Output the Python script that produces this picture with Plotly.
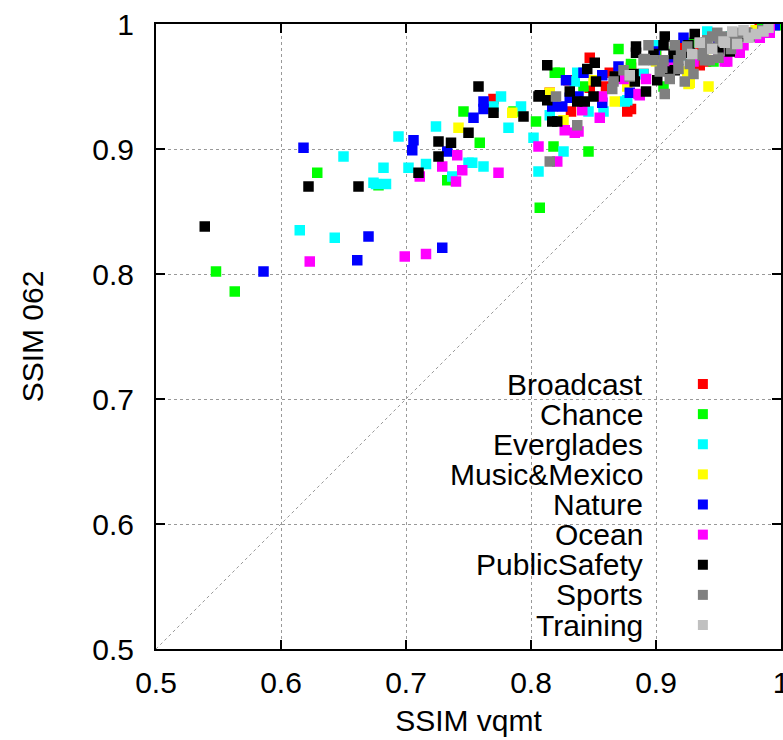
import plotly.graph_objects as go

# SSIM computed by vqmt (x) versus SSIM from the 062 build (y), per sequence set
categories = ["Broadcast", "Chance", "Everglades", "Music&Mexico", "Nature",
              "Ocean", "PublicSafety", "Sports", "Training"]
colors = ["#ff0000", "#00ff00", "#00ffff", "#ffff00", "#0000ff",
          "#ff00ff", "#000000", "#808080", "#c0c0c0"]

broadcast_x = [0.770, 0.847, 0.863, 0.832, 0.847, 0.877, 0.880, 0.935, 0.983, 0.815,
               0.830, 0.860, 0.880, 0.890, 0.900, 0.910, 0.920, 0.935, 0.940, 0.950,
               0.960, 0.970, 0.975, 0.990, 0.997]
broadcast_y = [0.940, 0.973, 0.961, 0.930, 0.949, 0.930, 0.932, 0.967, 0.999, 0.945,
               0.955, 0.950, 0.965, 0.960, 0.975, 0.970, 0.982, 0.980, 0.970, 0.985,
               0.988, 0.990, 0.993, 0.998, 1.000]

chance_x = [0.548, 0.563, 0.629, 0.678, 0.733, 0.746, 0.759, 0.786, 0.804, 0.807,
            0.818, 0.819, 0.823, 0.842, 0.846, 0.870, 0.906, 0.946, 0.995, 0.999,
            0.880, 0.900, 0.915, 0.930, 0.960, 0.980, 0.985]
chance_y = [0.802, 0.786, 0.881, 0.871, 0.875, 0.930, 0.905, 0.930, 0.922, 0.853,
            0.902, 0.961, 0.961, 0.950, 0.898, 0.980, 0.950, 0.970, 1.000, 0.999,
            0.968, 0.975, 0.978, 0.985, 0.990, 0.995, 0.997]

everglades_x = [0.615, 0.643, 0.650, 0.674, 0.676, 0.684, 0.682, 0.694, 0.702, 0.716,
                0.724, 0.737, 0.750, 0.753, 0.762, 0.776, 0.770, 0.792, 0.782, 0.802,
                0.806, 0.826, 0.815, 0.837, 0.835, 0.846, 0.858, 0.875, 0.877, 0.901,
                0.941, 0.890, 0.920, 0.960]
everglades_y = [0.835, 0.829, 0.894, 0.873, 0.872, 0.872, 0.885, 0.910, 0.885, 0.888,
                0.918, 0.878, 0.889, 0.889, 0.886, 0.942, 0.934, 0.934, 0.917, 0.909,
                0.882, 0.898, 0.927, 0.961, 0.954, 0.930, 0.930, 0.938, 0.939, 0.983,
                0.994, 0.960, 0.975, 0.990]

music_x = [0.742, 0.785, 0.815, 0.826, 0.867, 0.877, 0.925, 0.926, 0.927, 0.942,
           0.850, 0.880, 0.900, 0.940, 0.960, 0.980, 0.910]
music_y = [0.917, 0.929, 0.945, 0.923, 0.938, 0.950, 0.962, 0.952, 0.953, 0.950,
           0.955, 0.960, 0.970, 0.980, 0.985, 0.995, 0.965]

nature_x = [0.586, 0.618, 0.661, 0.670, 0.729, 0.706, 0.705, 0.733, 0.754, 0.762,
            0.762, 0.817, 0.825, 0.828, 0.831, 0.838, 0.842, 0.857, 0.857, 0.870,
            0.879, 0.899, 0.922, 0.910, 0.935, 0.950, 0.970, 0.990, 0.995]
nature_y = [0.802, 0.901, 0.811, 0.830, 0.821, 0.907, 0.899, 0.898, 0.925, 0.938,
            0.932, 0.934, 0.934, 0.955, 0.941, 0.942, 0.961, 0.959, 0.937, 0.966,
            0.945, 0.978, 0.989, 0.970, 0.975, 0.985, 0.990, 0.998, 0.999]

ocean_x = [0.623, 0.699, 0.716, 0.711, 0.729, 0.741, 0.745, 0.740, 0.774, 0.806,
           0.821, 0.827, 0.835, 0.838, 0.841, 0.855, 0.857, 0.874, 0.886, 0.887,
           0.892, 0.955, 0.957, 0.967, 0.967, 0.970, 0.983, 0.991, 0.991, 0.930,
           0.950, 0.910]
ocean_y = [0.810, 0.814, 0.816, 0.878, 0.886, 0.895, 0.883, 0.874, 0.881, 0.902,
           0.890, 0.915, 0.913, 0.914, 0.931, 0.925, 0.942, 0.956, 0.944, 0.943,
           0.956, 0.970, 0.970, 0.981, 0.977, 0.983, 0.989, 0.993, 0.997, 0.970,
           0.975, 0.965]

publicsafety_x = [0.539, 0.622, 0.662, 0.710, 0.726, 0.736, 0.726, 0.750, 0.758, 0.770,
                  0.794, 0.806, 0.813, 0.807, 0.813, 0.817, 0.821, 0.831, 0.837, 0.843,
                  0.850, 0.851, 0.845, 0.852, 0.867, 0.884, 0.884, 0.882, 0.892, 0.898,
                  0.901, 0.883, 0.906, 0.907, 0.914, 0.915, 0.911, 0.926, 0.927, 0.931,
                  0.959, 0.940, 0.950, 0.970]
publicsafety_y = [0.838, 0.870, 0.870, 0.881, 0.906, 0.905, 0.894, 0.913, 0.950, 0.929,
                  0.926, 0.942, 0.967, 0.943, 0.939, 0.922, 0.922, 0.946, 0.938, 0.938,
                  0.942, 0.969, 0.964, 0.954, 0.958, 0.982, 0.977, 0.960, 0.946, 0.976,
                  0.955, 0.954, 0.983, 0.990, 0.976, 0.963, 0.962, 0.983, 0.977, 0.992,
                  0.978, 0.985, 0.980, 0.990]

sports_x = [0.815, 0.837, 0.820, 0.866, 0.865, 0.874, 0.879, 0.890, 0.894, 0.891,
            0.898, 0.903, 0.906, 0.907, 0.911, 0.915, 0.918, 0.918, 0.923, 0.925,
            0.927, 0.935, 0.937, 0.938, 0.939, 0.941, 0.943, 0.943, 0.950, 0.949,
            0.966, 0.973, 0.951, 0.959, 0.960, 0.955, 0.985, 0.930, 0.920, 0.905,
            0.945, 0.965, 0.975]
sports_y = [0.890, 0.919, 0.942, 0.954, 0.948, 0.963, 0.958, 0.971, 0.983, 0.972,
            0.971, 0.962, 0.971, 0.944, 0.956, 0.983, 0.971, 0.964, 0.954, 0.982,
            0.968, 0.985, 0.975, 0.979, 0.971, 0.987, 0.981, 0.971, 0.973, 0.993,
            0.993, 0.993, 0.987, 0.987, 0.980, 0.990, 0.995, 0.960, 0.975, 0.965,
            0.990, 0.985, 0.990]

training_x = [0.879, 0.929, 0.954, 0.955, 0.961, 0.965, 0.974, 0.986, 0.990, 0.945,
              0.970, 0.935, 0.980]
training_y = [0.959, 0.976, 0.986, 0.985, 0.994, 0.984, 0.989, 0.994, 0.997, 0.980,
              0.995, 0.985, 0.992]

series_x = [broadcast_x, chance_x, everglades_x, music_x, nature_x,
            ocean_x, publicsafety_x, sports_x, training_x]
series_y = [broadcast_y, chance_y, everglades_y, music_y, nature_y,
            ocean_y, publicsafety_y, sports_y, training_y]

# identity reference line y = x
diag = [0.5, 1.0]
tick_vals = [0.5, 0.6, 0.7, 0.8, 0.9, 1.0]
tick_text = ["0.5", "0.6", "0.7", "0.8", "0.9", "1"]

FONT = "Liberation Sans, Arial, Helvetica, sans-serif"
FSIZE = 30
GRID = "#999999"

fig = go.Figure()

fig.add_trace(go.Scatter(
    x=diag, y=diag, mode="lines",
    line=dict(color=GRID, width=1, dash="dot"),
    hoverinfo="skip", showlegend=False,
))

for name, color, xs, ys in zip(categories, colors, series_x, series_y):
    fig.add_trace(go.Scatter(
        x=xs, y=ys, mode="markers", name=name,
        marker=dict(symbol="square", size=10.5, color=color, line=dict(width=0)),
        showlegend=False,
    ))

# Key in the lower right: right-aligned names with a swatch to their right
key_text_x = 0.783
key_mark_x = 0.875
key_top = 0.424
key_step = 0.0482
key_half = 0.008
annotations = []
shapes = []
for i, (name, color) in enumerate(zip(categories, colors)):
    yc = key_top - i * key_step
    annotations.append(dict(
        x=key_text_x, y=yc, xref="paper", yref="paper",
        text=name, showarrow=False, xanchor="right", yanchor="middle",
        font=dict(family=FONT, size=FSIZE, color="black"),
    ))
    shapes.append(dict(
        type="rect", xref="paper", yref="paper",
        x0=key_mark_x - key_half, x1=key_mark_x + key_half,
        y0=yc - key_half, y1=yc + key_half,
        fillcolor=color, line=dict(width=0),
    ))

axis_common = dict(
    range=[0.5, 1.0],
    tickvals=tick_vals, ticktext=tick_text,
    showgrid=True, gridcolor=GRID, gridwidth=1, griddash="dot",
    zeroline=False,
    showline=True, linecolor="black", linewidth=2, mirror="ticks",
    ticks="inside", ticklen=9, tickwidth=1.5, tickcolor="black",
    tickfont=dict(family=FONT, size=FSIZE, color="black"),
    ticklabeloverflow="allow",
    automargin=False,
)

fig.update_layout(
    width=783, height=740,
    margin=dict(l=156, r=2, t=24, b=91),
    paper_bgcolor="white", plot_bgcolor="white",
    font=dict(family=FONT, size=FSIZE, color="black"),
    xaxis=dict(axis_common,
               title=dict(text="SSIM vqmt", font=dict(family=FONT, size=FSIZE), standoff=12),
               ticklabelstandoff=6),
    yaxis=dict(axis_common,
               title=dict(text="SSIM 062", font=dict(family=FONT, size=FSIZE), standoff=40),
               ticklabelstandoff=14),
    annotations=annotations,
    shapes=shapes,
    showlegend=False,
)

fig.write_html("out.html")
